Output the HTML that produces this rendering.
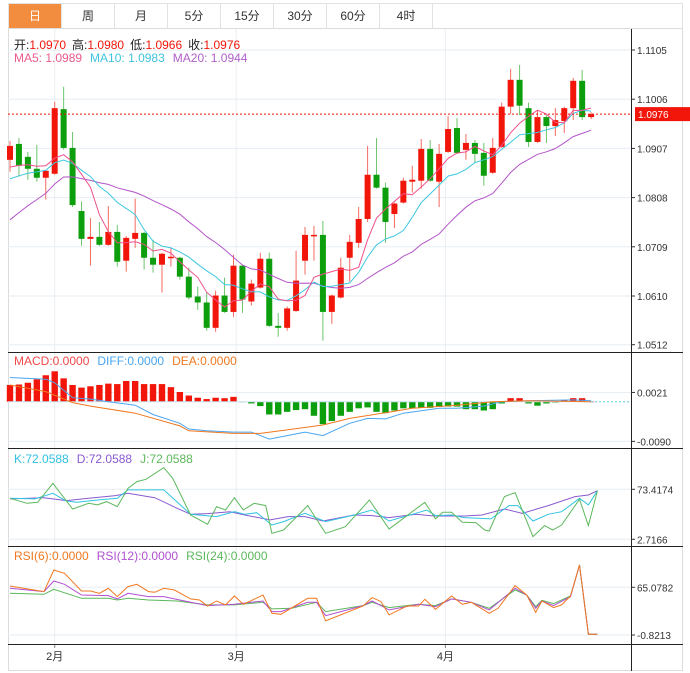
<!DOCTYPE html>
<html><head><meta charset="utf-8"><style>
body{margin:0;background:#fff;width:690px;height:673px;overflow:hidden;font-family:"Liberation Sans","Noto Sans CJK SC",sans-serif}
#tabs{position:absolute;left:8px;top:3px;width:675px;height:25px;border:1px solid #e3e3e3;border-bottom:none;box-sizing:border-box;display:flex}
.tab{width:53px;height:24px;border-right:1px solid #e3e3e3;box-sizing:border-box;text-align:center;line-height:24px;font-size:12px;color:#333}
.tab.on{background:#f28c3f;color:#fff}
svg{position:absolute;left:0;top:0}
</style></head><body>
<div id="tabs">
<div class="tab on">日</div>
<div class="tab">周</div>
<div class="tab">月</div>
<div class="tab">5分</div>
<div class="tab">15分</div>
<div class="tab">30分</div>
<div class="tab">60分</div>
<div class="tab">4时</div>
</div>
<svg id="c" width="690" height="673"></svg>
<script>
const opens=[1.0884,1.0916,1.0890,1.0866,1.0848,1.0856,1.0986,1.0908,1.0781,1.0725,1.0729,1.0713,1.0739,1.0681,1.0725,1.0737,1.0687,1.0673,1.0687,1.0687,1.0649,1.0609,1.0597,1.0546,1.0611,1.0578,1.0671,1.0599,1.0627,1.0685,1.0550,1.0546,1.0580,1.0681,1.0731,1.0733,1.0578,1.0607,1.0687,1.0717,1.0765,1.0854,1.0828,1.0775,1.0798,1.0840,1.0842,1.0906,1.0840,1.0900,1.0948,1.0904,1.0918,1.0898,1.0858,1.0910,1.0991,1.1045,1.0988,1.0920,1.0970,1.0952,1.0962,1.0988,1.1043,1.0970];
const highs=[1.0922,1.0928,1.0900,1.0914,1.0864,1.1001,1.1031,1.0940,1.0800,1.0767,1.0759,1.0791,1.0753,1.0731,1.0806,1.0739,1.0723,1.0697,1.0707,1.0689,1.0667,1.0629,1.0617,1.0621,1.0647,1.0693,1.0673,1.0643,1.0697,1.0697,1.0576,1.0589,1.0701,1.0749,1.0751,1.0761,1.0613,1.0687,1.0733,1.0789,1.0912,1.0928,1.0838,1.0798,1.0848,1.0872,1.0926,1.0924,1.0916,1.0972,1.0968,1.0936,1.0924,1.0918,1.0928,1.0999,1.1067,1.1075,1.0999,1.0984,1.0974,1.0988,1.0991,1.1049,1.1065,1.0980];
const lows=[1.0860,1.0850,1.0844,1.0840,1.0804,1.0854,1.0904,1.0789,1.0711,1.0671,1.0711,1.0711,1.0669,1.0659,1.0707,1.0663,1.0657,1.0617,1.0669,1.0643,1.0603,1.0582,1.0540,1.0538,1.0576,1.0568,1.0576,1.0591,1.0625,1.0548,1.0528,1.0540,1.0578,1.0653,1.0681,1.0520,1.0554,1.0605,1.0639,1.0707,1.0759,1.0826,1.0717,1.0747,1.0796,1.0818,1.0826,1.0840,1.0789,1.0898,1.0896,1.0884,1.0878,1.0832,1.0856,1.0908,1.0976,1.0974,1.0910,1.0918,1.0918,1.0932,1.0938,1.0964,1.0964,1.0966];
const closes=[1.0912,1.0872,1.0866,1.0848,1.0862,1.0988,1.0908,1.0793,1.0725,1.0729,1.0713,1.0739,1.0679,1.0727,1.0737,1.0687,1.0673,1.0695,1.0689,1.0649,1.0607,1.0597,1.0546,1.0611,1.0578,1.0671,1.0603,1.0635,1.0685,1.0550,1.0546,1.0585,1.0641,1.0733,1.0733,1.0578,1.0611,1.0667,1.0719,1.0765,1.0854,1.0828,1.0759,1.0796,1.0842,1.0844,1.0906,1.0842,1.0896,1.0946,1.0898,1.0918,1.0896,1.0852,1.0908,1.0991,1.1045,1.0993,1.0920,1.0970,1.0952,1.0964,1.0988,1.1043,1.0970,1.0976];
const priorCloses=[1.0580,1.0590,1.0600,1.0610,1.0615,1.0623,1.0790,1.0795,1.0800,1.0805,1.0810,1.0815,1.0820,1.0830,1.0835,1.0855,1.0860,1.0862,1.0858];
const priceTicks=[1.1105,1.1006,1.0907,1.0808,1.0709,1.0610,1.0512];
const lastPrice=1.0976;
const macdHist=[0.0038,0.0039,0.0043,0.0051,0.0060,0.0069,0.0053,0.0038,0.0032,0.0035,0.0038,0.0041,0.0040,0.0047,0.0047,0.0040,0.0040,0.0040,0.0033,0.0022,0.0014,0.0009,0.0006,0.0009,0.0008,0.0011,-0.0001,-0.0004,-0.0010,-0.0029,-0.0029,-0.0023,-0.0019,-0.0017,-0.0032,-0.0051,-0.0044,-0.0032,-0.0023,-0.0015,-0.0013,-0.0023,-0.0026,-0.0020,-0.0015,-0.0015,-0.0014,-0.0014,-0.0012,-0.0011,-0.0011,-0.0017,-0.0017,-0.0020,-0.0017,-0.0004,0.0008,0.0008,-0.0004,-0.0009,-0.0004,-0.0002,0.0004,0.0008,0.0008,0];
const diffIdx=[0,4,5,7,9,11,14,16,19,20,22,25,27,29,32,33,35,38,40,42,44,48,50,53,55,58,63,65];
const diffVal=[0.0055,0.0051,0.0043,0.0009,0.0006,0,-0.0008,-0.0029,-0.0049,-0.0062,-0.0066,-0.0069,-0.0069,-0.0085,-0.0073,-0.0069,-0.0077,-0.0049,-0.0038,-0.0039,-0.0026,-0.0015,-0.0015,-0.0010,0,0.0002,0.0004,0.0002];
const deaIdx=[0,4,7,9,14,19,20,25,28,31,35,38,42,45,50,54,58,65];
const deaVal=[0.0038,0.0023,-0.0002,-0.0010,-0.0026,-0.0055,-0.0066,-0.0072,-0.0072,-0.0064,-0.0053,-0.0038,-0.0025,-0.0015,-0.0008,0,0.0002,0];
const macdTicks=[0.0021,-0.0090];
const kIdx=[0,2.8,4.8,6.3,7.5,9.8,12,13.2,17.2,20.2,23.1,25.1,26.3,27.6,29.3,30.6,33,35.3,38.5,40.5,42.4,45.4,46.6,47.6,49.4,50.8,53.8,55.8,56.8,58.5,60.2,61.7,63.7,64.7,65.7];
const kVal=[60.7,59.8,67.8,56.9,55.0,58.3,60.7,72.5,72.5,38.1,34.8,41.8,38.1,40.4,23.0,27.7,39.5,27.7,37.1,44.2,28.6,39.5,44.2,36.2,37.1,33.4,31.5,50.3,50.3,28.6,38.1,41.8,60.7,51.3,71.5];
const dIdx=[0,3.8,6.3,8.8,11.8,13.2,16.2,18.7,20.2,22.1,24.6,26.6,29.1,31.1,33,35,38.5,40.5,42.4,45.4,47.4,50.8,52.8,55.3,57.3,60.2,63.2,64.7,65.7];
const dVal=[59.8,61.6,57.4,60.7,64.5,67.8,61.6,46.6,38.1,39.0,41.8,36.2,30.1,34.8,34.8,28.6,37.1,36.2,33.4,38.1,35.7,35.7,37.1,45.6,39.5,50.3,63.1,65.4,71.5];
const jIdx=[0,1.9,3.1,4.8,7.0,8.8,9.8,10.8,12,13.2,14.2,15.2,17.2,18.2,20.2,22.1,23.1,24.1,25.1,26.1,27.3,28.6,29.3,30.6,33.3,35.3,37.5,40.2,42.4,46.4,47.6,48.4,49.4,50.6,52.1,53.1,53.6,55.3,56.5,58.5,59.8,60.7,61.7,63.7,64.7,65.7];
const jVal=[60.7,53.6,55.0,81.9,45.6,53.6,51.3,56.0,48.9,74.8,84.3,87.6,104.1,89.0,37.1,23.9,48.9,44.2,61.6,44.2,53.6,50.3,11.2,15.9,50.3,11.2,20.6,58.3,17.3,55.0,31.5,40.9,40.9,26.8,26.3,15.9,14.5,63.1,68.7,6.5,22.1,15.9,23.0,59.3,22.1,71.5];
const kdjTicks=[73.4174,2.7166];
const rsi6Idx=[0,3.8,4.9,6.1,8.0,9.0,10.0,11.0,12.0,13.2,14.2,15.5,16.2,17.2,18.4,20.2,21.2,22.1,23.1,24.1,25.1,26.1,28.3,29.3,30.3,33.3,34.3,35.3,39.5,40.5,41.5,42.4,44.4,45.7,46.4,47.6,49.4,50.6,51.6,53.6,54.6,56.5,57.8,58.8,59.5,60.8,61.7,62.7,63.7,64.7,65.7];
const rsi6Val=[66.9,59.1,89.0,84.4,60.0,60.0,56.8,63.7,52.2,66.0,69.2,59.1,58.2,63.7,61.4,49.0,47.6,39.3,46.2,40.7,53.1,41.6,54.5,29.2,27.8,49.9,49.9,18.6,39.3,50.8,45.3,26.9,39.3,39.3,48.5,34.7,53.1,41.6,44.4,29.2,36.1,67.4,54.5,30.5,46.2,37.0,40.7,53.1,95.9,0.1,0.1];
const rsi12Idx=[0,3.8,4.9,6.1,8.0,11.0,12.0,13.2,15.5,17.2,20.2,22.1,25.1,28.3,29.3,30.3,33.3,34.3,35.3,39.5,40.5,42.4,45.7,47.6,49.4,51.6,53.6,56.5,57.8,58.8,59.5,60.8,62.7,63.7,64.7,65.7];
const rsi12Val=[63.7,59.1,73.8,69.2,54.5,53.6,49.0,56.8,52.2,52.2,44.4,39.8,41.6,46.2,31.5,31.5,44.4,44.4,25.9,39.8,46.2,33.8,41.6,38.4,49.0,44.4,33.8,63.7,54.5,36.1,46.2,39.8,52.2,95.9,0.1,0.1];
const rsi24Idx=[0,3.8,4.9,8.0,11.0,12.0,13.2,15.5,18.7,22.1,25.1,28.3,29.3,31.5,34.3,35.3,39.5,40.5,42.4,45.7,47.6,49.4,51.6,53.6,56.5,57.8,58.8,59.5,60.8,62.7,63.7,64.7,65.7];
const rsi24Val=[56.8,55.4,62.3,49.9,49.9,47.6,49.9,47.6,46.2,40.7,40.7,44.4,35.2,36.1,44.4,31.5,39.8,44.4,37.0,41.6,39.8,49.0,44.4,36.1,61.4,54.5,38.4,47.1,42.5,53.1,95.9,0.1,0.1];
const rsiTicks=[65.0782,-0.8213];
const monthLabels=["2月","3月","4月"];
const monthIdx=[5,25.3,48.7];

const NS="http://www.w3.org/2000/svg";
const svg=document.getElementById('c');
function mk(tag,attrs,parent){const e=document.createElementNS(NS,tag);for(const k in attrs)e.setAttribute(k,attrs[k]);(parent||svg).appendChild(e);return e;}
const X0=10,STEP=8.94,AX=631,LEFT=8,RIGHT=683;
const xOf=i=>X0+i*STEP;
const yP=p=>50+(1.1105-p)*4970;
const yM=v=>401.7-v/0.000227;
const yK=v=>489.3-(v-73.4174)/1.414;
const yR=v=>587.3-(v-65.0782)/1.3816;
function mkText(x,y,s,fill,name,size,anchor){const t=mk('text',{x:x,y:y,fill:fill,'font-size':size||12,'text-anchor':anchor||'start'});t.textContent=s;return t;}

const frame=mk('rect',{x:LEFT+0.5,y:28.5,width:RIGHT-LEFT-1,height:642,fill:'none',stroke:'#dcdcdc'});

monthIdx.forEach((m,k)=>{const g=mk('line',{x1:xOf(m),x2:xOf(m),y1:29,y2:648,stroke:'#e9eef2'});
 const tk=mk('line',{x1:xOf(m),x2:xOf(m),y1:644,y2:648,stroke:'#888'});
 mkText(xOf(m),660,monthLabels[k],'#333','month-label-'+(k+2),11,'middle');});
[352,448,546,644].forEach(y=>{const l=mk('line',{x1:LEFT,x2:RIGHT,y1:y+0.5,y2:y+0.5,stroke:'#222'});});
const ax=mk('line',{x1:AX+0.5,x2:AX+0.5,y1:29,y2:671,stroke:'#222'});
function tick(y,label,name){const g=mk('line',{x1:LEFT,x2:AX,y1:y,y2:y,stroke:'#e6edf3'});
 const t=mk('line',{x1:AX,x2:AX+4,y1:y,y2:y,stroke:'#333'});
 mkText(AX+6,y+4,label,'#333',name+'-label',10);}
priceTicks.forEach(p=>tick(yP(p),p.toFixed(4),'price-tick'));
macdTicks.forEach(p=>tick(yM(p),p.toFixed(4),'macd-tick'));
kdjTicks.forEach(p=>tick(yK(p),p.toFixed(4),'kdj-tick'));
rsiTicks.forEach(p=>tick(yR(p),p.toFixed(4),'rsi-tick'));

const RED='#f2160a',GRN='#0c9e0c';
opens.forEach((o,i)=>{const c=closes[i],up=c>=o,col=up?RED:GRN,x=xOf(i);
 const w=mk('line',{x1:x,x2:x,y1:yP(highs[i]),y2:yP(lows[i]),stroke:up?'#f46a60':'#6cc46c','stroke-width':1});
 
 const top=yP(Math.max(o,c)),h=Math.max(1.5,Math.abs(yP(o)-yP(c)));
 const b=mk('rect',{x:x-3,y:top,width:6,height:h,fill:col});
 });
const fullCloses=priorCloses.concat(closes);
const P=priorCloses.length;
function ma(n){return closes.map((_,i)=>{const j=i+P;const s=fullCloses.slice(Math.max(0,j-n+1),j+1);return s.reduce((a,b)=>a+b,0)/s.length;});}
function poly(idx,vals,yf,col,name,extra){const pts=idx.map((t,k)=>xOf(t).toFixed(1)+','+yf(vals[k]).toFixed(1)).join(' ');
 const p=mk('polyline',Object.assign({points:pts,fill:'none',stroke:col,'stroke-width':1},extra||{}));return p;}
const allIdx=closes.map((_,i)=>i);
poly(allIdx,ma(20),yP,'#b455c8','ma20-line');
poly(allIdx,ma(10),yP,'#3ec8df','ma10-line');
poly(allIdx,ma(5),yP,'#f0508c','ma5-line');
const lp=mk('line',{x1:LEFT,x2:AX,y1:yP(lastPrice),y2:yP(lastPrice),stroke:'#f2160a','stroke-dasharray':'2,2'});

const lb=mk('rect',{x:AX+4,y:yP(lastPrice)-7,width:RIGHT+7-AX-4,height:14,fill:'#f2160a'});

mkText(AX+7,yP(lastPrice)+4,lastPrice.toFixed(4),'#fff','last-price-label',10);

const lg1=mk('text',{x:14,y:49,'font-size':12});
lg1.innerHTML='<tspan fill="#222">开:</tspan><tspan fill="#f2160a">1.0970</tspan><tspan fill="#222" dx="6">高:</tspan><tspan fill="#f2160a">1.0980</tspan><tspan fill="#222" dx="6">低:</tspan><tspan fill="#f2160a">1.0966</tspan><tspan fill="#222" dx="6">收:</tspan><tspan fill="#f2160a">1.0976</tspan>';
const lg2=mk('text',{x:14,y:62,'font-size':12});
lg2.innerHTML='<tspan fill="#ea5a8c">MA5: 1.0989</tspan><tspan fill="#3ec4dc" dx="8">MA10: 1.0983</tspan><tspan fill="#b060c8" dx="8">MA20: 1.0944</tspan>';

macdHist.forEach((v,i)=>{const y0=yM(0),y1=yM(v);const r=mk('rect',{x:xOf(i)-3.2,y:Math.min(y0,y1),width:6.4,height:Math.max(0.5,Math.abs(y1-y0)),fill:v>=0?RED:GRN});
 });
const zl=mk('line',{x1:xOf(65),x2:AX,y1:yM(0),y2:yM(0),stroke:'#5cc8e8','stroke-dasharray':'2,2'});
const zl2=mk('line',{x1:LEFT,x2:xOf(65),y1:yM(0),y2:yM(0),stroke:'#c8dff0'});
poly(diffIdx,diffVal,yM,'#4aa6f0','diff-line');
poly(deaIdx,deaVal,yM,'#f07820','dea-line');
const lg3=mk('text',{x:14,y:365,'font-size':12});
lg3.innerHTML='<tspan fill="#f04848">MACD:0.0000</tspan><tspan fill="#4aa6f0" dx="8">DIFF:0.0000</tspan><tspan fill="#f07820" dx="8">DEA:0.0000</tspan>';

poly(dIdx,dVal,yK,'#8a5ad0','kdj-d-line');
poly(kIdx,kVal,yK,'#30c4e0','kdj-k-line');
poly(jIdx,jVal,yK,'#5cb85c','kdj-j-line');
const lg4=mk('text',{x:14,y:463,'font-size':12});
lg4.innerHTML='<tspan fill="#30c0e0">K:72.0588</tspan><tspan fill="#8a5ad0" dx="8">D:72.0588</tspan><tspan fill="#5cb85c" dx="8">J:72.0588</tspan>';

poly(rsi24Idx,rsi24Val,yR,'#5cb85c','rsi24-line');
poly(rsi12Idx,rsi12Val,yR,'#b050d0','rsi12-line');
poly(rsi6Idx,rsi6Val,yR,'#f07820','rsi6-line');
const lg5=mk('text',{x:14,y:560,'font-size':12});
lg5.innerHTML='<tspan fill="#f07820">RSI(6):0.0000</tspan><tspan fill="#b050d0" dx="8">RSI(12):0.0000</tspan><tspan fill="#5cb85c" dx="8">RSI(24):0.0000</tspan>';
</script>
</body></html>
